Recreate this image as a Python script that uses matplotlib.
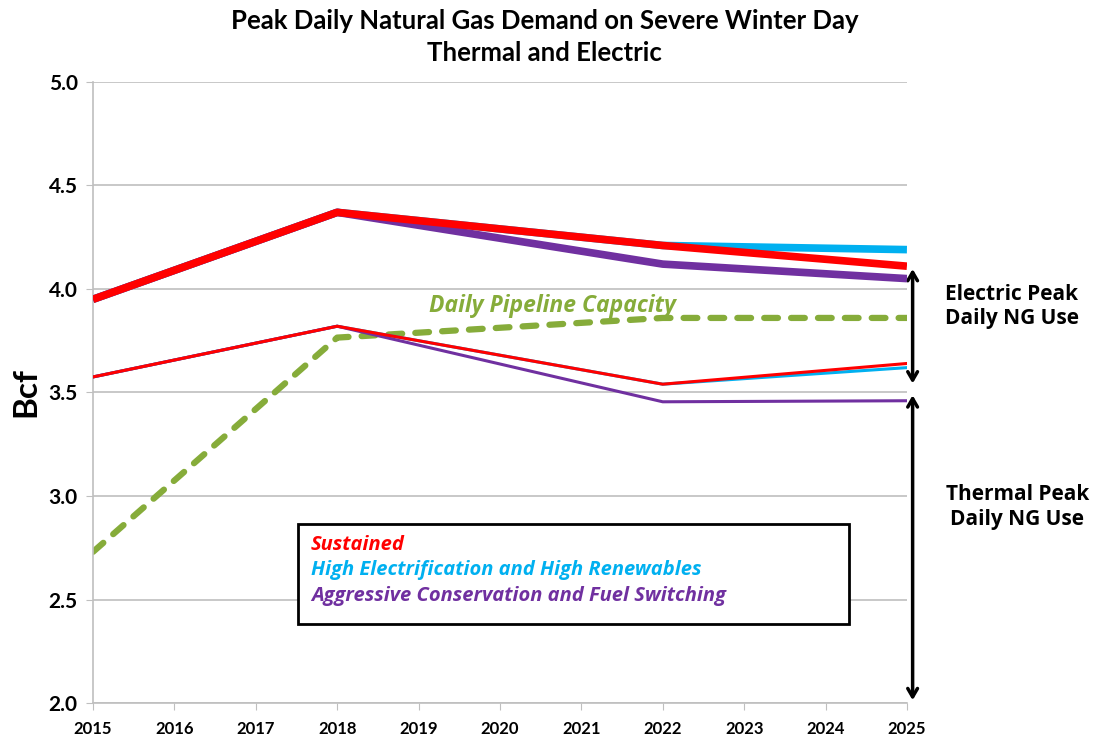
import matplotlib
matplotlib.use("Agg")
import matplotlib.pyplot as plt
from matplotlib.patches import Rectangle

# ===================== DATA =====================
years = [2015, 2018, 2022, 2025]

# total peak (thermal + electric)
total_sustained = [3.95, 4.37, 4.21, 4.11]
total_high_elec = [3.95, 4.37, 4.21, 4.19]
total_aggressive = [3.95, 4.37, 4.12, 4.05]

# thermal peak only
thermal_sustained = [3.575, 3.82, 3.54, 3.64]
thermal_high_elec = [3.575, 3.82, 3.54, 3.62]
thermal_aggressive = [3.575, 3.82, 3.455, 3.46]

pipeline_capacity = [2.73, 3.765, 3.86, 3.86]

scenario_names = [
    "Sustained",
    "High Electrification and High Renewables",
    "Aggressive Conservation and Fuel Switching",
]

# ===================== COLORS =====================
RED = "#FF0000"
BLUE = "#00B0F0"
PURPLE = "#7030A0"
GREEN = "#86AC3A"
GRID = "#BFBFBF"

NARROW = ["Lato", "DejaVu Sans"]
GILL = ["Open Sans", "DejaVu Sans"]

fig = plt.figure(figsize=(10.94, 7.38), dpi=100)
ax = fig.add_axes([0.085, 0.0474, 0.744, 0.8416])

# thick lines = total demand
ax.plot(years, total_high_elec, color=BLUE, lw=5.5, solid_capstyle="butt", zorder=3)
ax.plot(years, total_aggressive, color=PURPLE, lw=5.5, solid_capstyle="butt", zorder=4)
ax.plot(years, total_sustained, color=RED, lw=5.5, solid_capstyle="butt", zorder=5)

# thin lines = thermal demand
ax.plot(years, thermal_high_elec, color=BLUE, lw=2.2, zorder=3)
ax.plot(years, thermal_aggressive, color=PURPLE, lw=2.2, zorder=4)
ax.plot(years, thermal_sustained, color=RED, lw=2.2, zorder=5)

# pipeline capacity
ax.plot(years, pipeline_capacity, color=GREEN, lw=4.5, linestyle=(0, (2.2, 2.1)),
        dash_capstyle="round", zorder=2)

# ===================== AXES =====================
ax.set_xlim(2015, 2025)
ax.set_ylim(2.0, 5.0)
ax.set_xticks(range(2015, 2026))
ax.set_yticks([2.0, 2.5, 3.0, 3.5, 4.0, 4.5, 5.0])
ax.set_yticklabels([f"{v:.1f}" for v in ax.get_yticks()])
ax.yaxis.grid(True, color=GRID, lw=1.2)
ax.set_axisbelow(True)
for s in ["top", "right"]:
    ax.spines[s].set_visible(False)
for s in ["left", "bottom"]:
    ax.spines[s].set_color(GRID)
    ax.spines[s].set_linewidth(1.2)
ax.tick_params(axis="x", direction="out", length=5, color=GRID, pad=8)
ax.tick_params(axis="y", direction="out", length=5, color=GRID, pad=6)
for lab in ax.get_xticklabels():
    lab.set_fontfamily(NARROW)
    lab.set_fontweight("bold")
    lab.set_fontsize(12)
for lab in ax.get_yticklabels():
    lab.set_fontfamily(NARROW)
    lab.set_fontweight("bold")
    lab.set_fontsize(15)

fig.text(26 / 1094, 1 - 392 / 738, "Bcf", rotation=90, ha="center", va="center",
         fontsize=24, fontweight="bold", family=NARROW)

fig.text(0.498, 0.972, "Peak Daily Natural Gas Demand on Severe Winter Day",
         ha="center", va="center", fontsize=18.5, fontweight="bold", family=NARROW)
fig.text(0.498, 0.928, "Thermal and Electric",
         ha="center", va="center", fontsize=18.5, fontweight="bold", family=NARROW)

# ===================== ANNOTATIONS =====================
ax.text(2020.64, 3.92, "Daily Pipeline Capacity", color=GREEN, fontsize=16.5,
        fontweight="bold", style="italic", family=GILL, ha="center", va="center")

arrow_x = 2025.07
ax.annotate("", xy=(arrow_x, 4.11), xytext=(arrow_x, 3.53),
            arrowprops=dict(arrowstyle="<->,head_length=0.6,head_width=0.35",
                            color="black", lw=2.5),
            annotation_clip=False)
ax.annotate("", xy=(arrow_x, 3.50), xytext=(arrow_x, 2.0),
            arrowprops=dict(arrowstyle="<->,head_length=0.6,head_width=0.35",
                            color="black", lw=2.5),
            annotation_clip=False)

fig.text(0.925, 0.585, "Electric Peak\nDaily NG Use", ha="center", va="center",
         fontsize=15, fontweight="bold", family=GILL, linespacing=1.2)
fig.text(0.930, 0.313, "Thermal Peak\nDaily NG Use", ha="center", va="center",
         fontsize=15, fontweight="bold", family=GILL, linespacing=1.2)

# ===================== LEGEND BOX =====================
box = Rectangle((298 / 1094, 1 - 624 / 738), (849 - 298) / 1094, (624 - 524) / 738,
                transform=fig.transFigure, facecolor="white", edgecolor="black",
                lw=2, zorder=10)
fig.patches.append(box)
for i, (name, col) in enumerate(zip(scenario_names, [RED, BLUE, PURPLE])):
    fig.text(311 / 1094, 1 - (545 + 25.5 * i) / 738, name, color=col, fontsize=14.5,
             fontweight="bold", style="italic", family=GILL, va="center", ha="left",
             zorder=11)

fig.savefig("out.png", dpi=100)
